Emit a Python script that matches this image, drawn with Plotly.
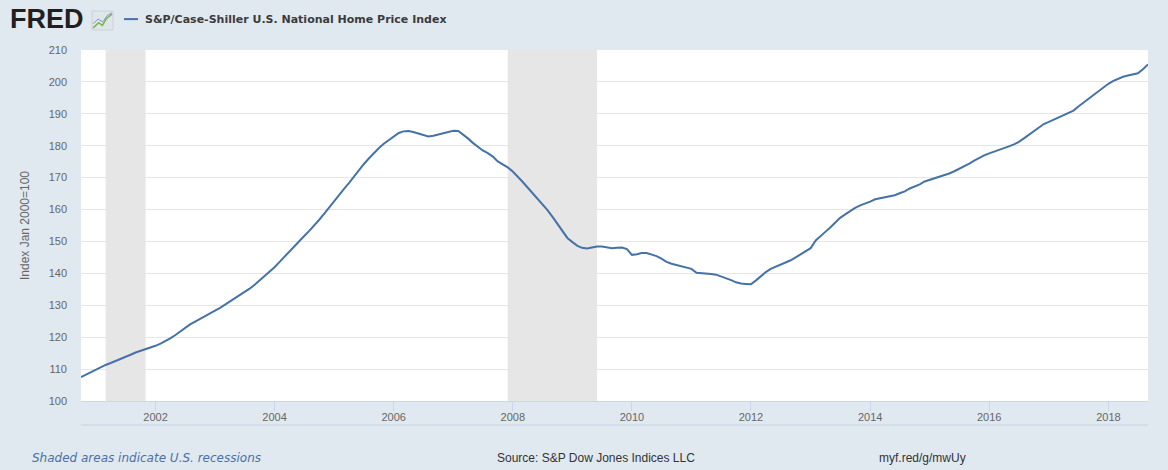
import pandas as pd
import plotly.graph_objects as go

# monthly index values (Oct 2000 .. Sep 2018)
start_month = "2000-10-01"
index_values = [
    107.5, 108.3, 109.1,
    # 2001
    109.9, 110.6, 111.3, 111.9, 112.5, 113.1, 113.8, 114.5, 115.2, 115.7, 116.2, 116.6,
    # 2002
    117.3, 118.0, 118.7, 119.6, 120.6, 121.7, 123.0, 124.0, 124.9, 125.8, 126.7, 127.5,
    # 2003
    128.3, 129.2, 130.1, 131.0, 132.0, 133.0, 134.1, 135.2, 136.4, 137.7, 139.0, 140.3,
    # 2004
    141.9, 143.6, 145.2, 146.8, 148.4, 150.0, 151.7, 153.3, 155.0, 156.8, 158.7, 160.7,
    # 2005
    162.5, 164.6, 166.4, 168.3, 170.3, 172.4, 174.2, 176.0, 177.7, 179.2, 180.6, 181.8,
    # 2006
    183.0, 184.0, 184.5, 184.6, 184.3, 183.8, 183.2, 182.9, 183.1, 183.5, 183.9, 184.4,
    # 2007
    184.7, 184.6, 183.6, 182.3, 180.9, 179.7, 178.5, 177.7, 176.6, 175.1, 174.2, 173.2,
    # 2008
    171.9, 170.4, 168.7, 166.9, 165.2, 163.5, 161.6, 159.8, 157.7, 155.5, 153.1, 151.1,
    # 2009
    149.8, 148.6, 148.0, 147.8, 148.1, 148.4, 148.4, 148.1, 147.9, 148.0, 148.1, 147.6,
    # 2010
    145.8, 146.0, 146.4, 146.4, 146.0, 145.4, 144.6, 143.6, 143.0, 142.6, 142.2, 142.0,
    # 2011
    141.4, 140.2, 140.0, 139.9, 139.8, 139.6, 139.1, 138.6, 137.9, 137.2, 136.8, 136.7,
    # 2012
    136.6, 137.8, 139.1, 140.4, 141.4, 142.1, 142.7, 143.3, 144.1, 145.0, 145.9, 146.9,
    # 2013
    147.9, 150.3, 151.7, 153.0, 154.4, 155.9, 157.4, 158.5, 159.6, 160.5, 161.3, 161.8,
    # 2014
    162.5, 163.2, 163.5, 163.8, 164.1, 164.5, 165.1, 165.7, 166.6, 167.2, 167.9, 168.8,
    # 2015
    169.3, 169.8, 170.3, 170.8, 171.3, 172.0, 172.7, 173.5, 174.4, 175.3, 176.2, 177.0,
    # 2016
    177.6, 178.1, 178.6, 179.2, 179.8, 180.4, 181.2, 182.3, 183.4, 184.5, 185.6, 186.8,
    # 2017
    187.5, 188.2, 188.9, 189.6, 190.4, 191.0, 192.3, 193.5, 194.7, 195.9, 197.1, 198.3,
    # 2018
    199.4, 200.3, 201.0, 201.6, 202.0, 202.4, 202.7, 204.0, 205.5,
]
dates = pd.date_range(start_month, periods=len(index_values), freq="MS")

recession_starts = ["2001-03-01", "2007-12-01"]
recession_ends = ["2001-11-01", "2009-06-01"]

series_name = "S&P/Case-Shiller U.S. National Home Price Index"
y_ticks = list(range(100, 211, 10))

BG = "#e1e9f0"
LINE = "#4572a7"
AXIS = "#ccd6eb"

fig = go.Figure()
fig.add_trace(go.Scatter(
    x=dates, y=index_values, mode="lines", name=series_name,
    line=dict(color=LINE, width=2), showlegend=False,
))

# recession shading
for s, e in zip(recession_starts, recession_ends):
    fig.add_vrect(x0=s, x1=e, fillcolor="#e6e6e6", opacity=1,
                  line_width=0, layer="below")

# line under the tick labels
fig.add_shape(type="line", xref="paper", yref="paper", x0=0, x1=1,
              y0=-0.0684, y1=-0.0684, line=dict(color="#c6d2e4", width=1))

# little FRED chart icon
fig.add_shape(type="rect", xref="paper", yref="paper",
              x0=0.0103, x1=0.0300, y0=1.057, y1=1.111,
              fillcolor="#dfe6ea", line=dict(color="#c8d2d8", width=1))
fig.add_shape(type="path", xref="paper", yref="paper",
              path="M 0.0115 1.063 L 0.0165 1.078 L 0.0200 1.070 L 0.0240 1.090 L 0.0290 1.102",
              line=dict(color="#7ab648", width=1.5))
fig.add_shape(type="path", xref="paper", yref="paper",
              path="M 0.0115 1.075 L 0.0160 1.088 L 0.0205 1.080 L 0.0245 1.098 L 0.0290 1.106",
              line=dict(color="#7b9cc4", width=1))

# legend swatch
fig.add_shape(type="line", xref="paper", yref="paper",
              x0=0.0403, x1=0.0534, y0=1.088, y1=1.088,
              line=dict(color=LINE, width=2))

fig.add_annotation(text="<b>FRED</b>", xref="paper", yref="paper",
                   x=-0.068, y=1.088, xanchor="left", yanchor="middle",
                   showarrow=False,
                   font=dict(family="Liberation Sans", size=27, color="#231f20"))
fig.add_annotation(text="<b>" + series_name + "</b>", xref="paper", yref="paper",
                   x=0.058, y=1.088, xanchor="left", yanchor="middle",
                   showarrow=False,
                   font=dict(family="DejaVu Sans", size=11, color="#3b3b3b"))

fig.add_annotation(text="<i>Shaded areas indicate U.S. recessions</i>",
                   xref="paper", yref="paper", x=-0.048, y=-0.162,
                   xanchor="left", yanchor="middle", showarrow=False,
                   font=dict(family="DejaVu Sans", size=12, color="#4b70a6"))
fig.add_annotation(text="Source: S&P Dow Jones Indices LLC",
                   xref="paper", yref="paper", x=0.388, y=-0.162,
                   xanchor="left", yanchor="middle", showarrow=False,
                   font=dict(family="Liberation Sans", size=12, color="#333333"))
fig.add_annotation(text="myf.red/g/mwUy",
                   xref="paper", yref="paper", x=0.746, y=-0.162,
                   xanchor="left", yanchor="middle", showarrow=False,
                   font=dict(family="Liberation Sans", size=12, color="#333333"))

fig.update_layout(
    width=1168, height=470,
    margin=dict(l=81, r=20, t=50, b=69),
    paper_bgcolor=BG, plot_bgcolor="white",
    font=dict(family="Liberation Sans", size=11, color="#666666"),
    xaxis=dict(
        type="date", range=[dates[0], dates[-1]],
        tick0="2002-01-01", dtick="M24", tickformat="%Y",
        showgrid=False, showline=True, linecolor=AXIS, linewidth=1,
        ticks="outside", ticklen=9, tickcolor=AXIS,
        ticklabelstandoff=-3,
        tickfont=dict(size=11, color="#666666"), zeroline=False,
    ),
    yaxis=dict(
        range=[100, 210], tickvals=y_ticks,
        showgrid=True, gridcolor="#e6e6e6", gridwidth=1,
        zeroline=False, showline=False, ticks="",
        ticklabelstandoff=13,
        tickfont=dict(size=11, color="#666666"),
        title=dict(text="Index Jan 2000=100", standoff=16,
                   font=dict(size=12, color="#666666")),
    ),
)

# the page itself gets no margin, so the figure fills the window
fig.write_html("out.html", config={"displayModeBar": False},
               post_script="document.body.style.margin='0';")
